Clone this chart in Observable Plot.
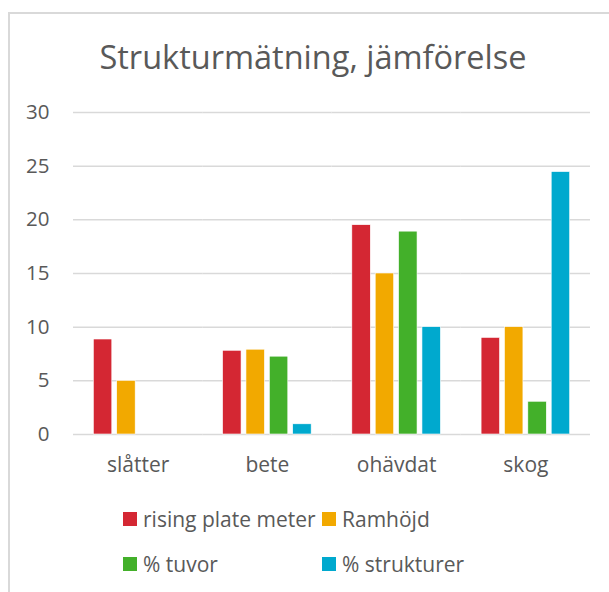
<!DOCTYPE html>
<html>
<head>
<meta charset="utf-8">
<script src="https://cdn.jsdelivr.net/npm/d3@7"></script>
<script src="https://cdn.jsdelivr.net/npm/@observablehq/plot@0.6"></script>
<style>
  html, body { margin: 0; padding: 0; background: #fff; }
  #wrap { position: relative; width: 609px; height: 592px; overflow: hidden; font-family: "Open Sans", sans-serif; color: #595959; }
  #frame { position: absolute; left: 8px; top: 12px; width: 620px; height: 600px; border: 2px solid #d9d9d9; box-sizing: border-box; }
  #title { position: absolute; left: 0; width: 626px; top: 37px; text-align: center; font-size: 32.5px; line-height: 40px; white-space: nowrap; }
  #chart { position: absolute; left: 0; top: 90px; }
  .leg { position: absolute; font-size: 21px; line-height: 24px; white-space: nowrap; display: flex; align-items: center; }
  .sw { width: 14px; height: 14px; margin-right: 6px; display: inline-block; }
</style>
</head>
<body>
<div id="wrap">
  <div id="frame"></div>
  <div id="title">Strukturmätning, jämförelse</div>
  <div id="chart"></div>
  <div id="legend"></div>
</div>
<script>
const categories = ["slåtter", "bete", "ohävdat", "skog"];
const seriesNames = ["rising plate meter", "Ramhöjd", "% tuvor", "% strukturer"];
const risingPlateMeter = [8.85, 7.8, 19.5, 9.0];
const ramhojd = [5.0, 7.9, 15.0, 10.0];
const tuvor = [null, 7.25, 18.9, 3.05];
const strukturer = [null, 0.95, 10.0, 24.45];
const yTicks = [0, 5, 10, 15, 20, 25, 30];
const colors = ["#D42733", "#F2A900", "#43B02A", "#00A9CE"];

const seriesValues = [risingPlateMeter, ramhojd, tuvor, strukturer];
const data = [];
categories.forEach((c, i) => {
  seriesNames.forEach((s, j) => {
    const v = seriesValues[j][i];
    if (v != null) data.push({category: c, series: s, value: v});
  });
});

const chart = Plot.plot({
  width: 609,
  height: 390,
  marginLeft: 73,
  marginRight: 19,
  marginTop: 22,
  marginBottom: 46,
  style: {fontFamily: "Open Sans", fontSize: "20px", color: "#595959", background: "transparent"},
  fx: {domain: categories, padding: 0, round: false, label: null},
  x: {domain: seriesNames, paddingInner: 0.21, paddingOuter: 0.87, round: false, axis: null},
  y: {domain: [0, 30], label: null},
  color: {domain: seriesNames, range: colors},
  marks: [
    Plot.ruleY(yTicks, {stroke: "#d9d9d9", strokeWidth: 1.5}),
    Plot.barY(data, {fx: "category", x: "series", y: "value", fill: "series", stroke: "white", strokeWidth: 0.6}),
    Plot.axisY({ticks: yTicks, tickSize: 0, tickPadding: 24, fill: "#595959", fontSize: 20.5, label: null}),
    Plot.axisFx({anchor: "bottom", tickSize: 0, tickPadding: 23, fill: "#595959", fontSize: 21, label: null})
  ]
});
document.getElementById("chart").appendChild(chart);

const legendPos = [[123, 519], [322, 519], [123, 564], [322, 564]];
const legend = document.getElementById("legend");
seriesNames.forEach((s, i) => {
  const d = document.createElement("div");
  d.className = "leg";
  d.style.left = legendPos[i][0] + "px";
  d.style.top = (legendPos[i][1] - 12) + "px";
  d.innerHTML = `<span class="sw" style="background:${colors[i]}"></span><span>${s}</span>`;
  legend.appendChild(d);
});
</script>
</body>
</html>
